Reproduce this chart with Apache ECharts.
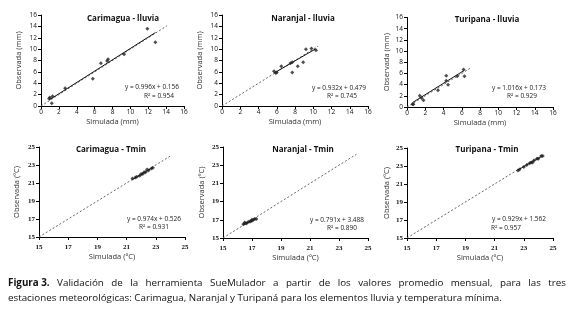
<!DOCTYPE html>
<html><head><meta charset="utf-8">
<script src="https://cdn.jsdelivr.net/npm/echarts@6/dist/echarts.min.js"></script>
<style>html,body{margin:0;padding:0;background:#fff}#c{width:574px;height:313px}</style>
</head><body><div id="c"></div>
<script>
// ---- data ----
const panelTitles = ['Carimagua - lluvia','Naranjal - lluvia','Turipana - lluvia','Carimagua - Tmin','Naranjal - Tmin','Turipana - Tmin'];
const carLluviaSim = [0.9, 1.0, 1.2, 1.3, 2.7, 5.8, 6.7, 7.4, 7.5, 9.3, 11.9, 12.8];
const carLluviaObs = [1.3, 1.5, 0.5, 1.7, 3.1, 4.8, 7.5, 7.9, 8.2, 9.1, 13.6, 11.2];
const narLluviaSim = [5.7, 5.9, 6.0, 6.5, 7.5, 7.7, 7.7, 8.3, 8.9, 9.2, 9.8, 10.3];
const narLluviaObs = [6.1, 5.8, 5.9, 7.0, 7.5, 7.7, 5.9, 7.0, 7.7, 10.0, 10.1, 9.8];
const turLluviaSim = [0.6, 0.7, 1.4, 1.6, 1.8, 3.4, 4.3, 4.3, 4.5, 5.5, 6.2, 6.3];
const turLluviaObs = [0.5, 0.5, 2.0, 1.6, 1.2, 3.0, 5.6, 4.7, 4.0, 5.5, 6.7, 5.5];
const carTminSim = [21.4, 21.6, 21.7, 21.9, 22.0, 22.1, 22.2, 22.3, 22.4, 22.5, 22.7, 22.8];
const carTminObs = [21.5, 21.6, 21.7, 21.8, 22.0, 22.0, 22.2, 22.2, 22.5, 22.4, 22.6, 22.7];
const narTminSim = [16.4, 16.5, 16.5, 16.6, 16.7, 16.8, 16.9, 17.0, 17.0, 17.1, 17.2, 17.3];
const narTminObs = [16.5, 16.6, 16.7, 16.6, 16.7, 16.8, 16.8, 16.9, 17.0, 17.0, 17.1, 17.1];
const turTminSim = [22.6, 22.7, 23.0, 23.2, 23.4, 23.5, 23.6, 23.7, 23.9, 24.0, 24.2, 24.3];
const turTminObs = [22.5, 22.6, 22.9, 23.1, 23.3, 23.4, 23.4, 23.6, 23.8, 23.8, 24.1, 24.1];
const slopes = [0.996, 0.932, 1.016, 0.974, 0.791, 0.929];
const intercepts = [0.156, 0.479, 0.173, 0.526, 3.488, 1.562];
const equations = ['y = 0.996x + 0.156','y = 0.932x + 0.479','y = 1.016x + 0.173','y = 0.974x + 0.526','y = 0.791x + 3.488','y = 0.929x + 1.562'];
const r2Values = ['0.954','0.745','0.929','0.931','0.890','0.957'];
const oneToOneEnd = [14.1, 10.5, 6.9, 24.1, 24.2, 24.3];
const lluviaTicks = [0, 2, 4, 6, 8, 10, 12, 14, 16];
const tminTicks = [15, 17, 19, 21, 23, 25];
const xNames = ['Simulada (mm)','Simulada (mm)','Simulada (mm)','Simulada (ºC)','Simulada (ºC)','Simulada (ºC)'];
const yNames = ['Observada (mm)','Observada (mm)','Observada (mm)','Observada (ºC)','Observada (ºC)','Observada (ºC)'];
const captionBold = 'Figura 3.';
const captionLine1 = 'Validación de la herramienta SueMulador a partir de los valores promedio mensual, para las tres';
const captionLine2 = 'estaciones meteorológicas: Carimagua, Naranjal y Turipaná para los elementos lluvia y temperatura mínima.';

const sims = [carLluviaSim, narLluviaSim, turLluviaSim, carTminSim, narTminSim, turTminSim];
const obss = [carLluviaObs, narLluviaObs, turLluviaObs, carTminObs, narTminObs, turTminObs];

// ---- layout ----
const grids = [
  {left:41, top:15, width:143, height:91},
  {left:222, top:15, width:146, height:91},
  {left:407, top:17.5, width:146, height:89.5},
  {left:39, top:147, width:146, height:90},
  {left:223, top:147, width:145, height:91},
  {left:407, top:148, width:146, height:90}
];
const yNameGap = [18, 18, 16, 18, 17, 16];
const titlePos = [[118,15],[298,15],[482,16],[106,146],[298,146],[482,146]];
const eqPos = [[152,88,'center'],[339,89,'center'],[519,89,'center'],[154,220,'center'],[337,221,'center'],[519,220,'center']];
const r2Pos = [[159,97,'center'],[342,97,'center'],[522,97,'center'],[154,228,'center'],[342,229,'center'],[491,229,'left']];

const FONT = 'Open Sans';
const xAxes = [], yAxes = [], series = [], titles = [], graphics = [];
for (let i = 0; i < 6; i++) {
  const isT = i >= 3;
  const ticks = isT ? tminTicks : lluviaTicks;
  const mn = ticks[0], mx = ticks[ticks.length-1], iv = ticks[1]-ticks[0];
  const labelStyle = {fontSize: isT ? 7 : 6.5, color:'#111', fontFamily: isT ? 'Liberation Serif' : FONT, fontWeight: isT ? 'bold' : 'normal'};
  xAxes.push({type:'value', gridIndex:i, min:mn, max:mx, interval:iv,
    axisLine:{show:true, lineStyle:{color:'#000', width:1}},
    axisTick:{show:true, length:3, inside:false, lineStyle:{color:'#000'}},
    axisLabel:Object.assign({margin: isT ? 7 : 3}, labelStyle),
    splitLine:{show:false},
    name:xNames[i], nameLocation:'middle', nameGap: isT ? 16 : 12,
    nameTextStyle:{fontSize:7.5, color:'#333', fontFamily:FONT}
  });
  yAxes.push({type:'value', gridIndex:i, min:mn, max:mx, interval:iv,
    axisLine:{show:true, lineStyle:{color:'#000', width:1}},
    axisTick:{show:true, length:3, lineStyle:{color:'#000'}},
    axisLabel:Object.assign({margin:4}, labelStyle),
    splitLine:{show:false},
    name:yNames[i], nameLocation:'middle', nameGap:yNameGap[i],
    nameTextStyle:{fontSize:7.5, color:'#333', fontFamily:FONT}
  });
  const sim = sims[i], obs = obss[i];
  const pts = sim.map((v,k)=>[v, obs[k]]);
  const x0 = Math.min(...sim), x1 = Math.max(...sim);
  series.push({type:'line', xAxisIndex:i, yAxisIndex:i, data:[[mn,mn],[oneToOneEnd[i],oneToOneEnd[i]]],
    symbol:'none', silent:true, lineStyle:{color:'#666', width:1, type:[2,2]}, z:1});
  series.push({type:'line', xAxisIndex:i, yAxisIndex:i,
    data:[[x0, slopes[i]*x0+intercepts[i]],[x1, slopes[i]*x1+intercepts[i]]],
    symbol:'none', silent:true, lineStyle:{color:'#111', width:1}, z:2});
  series.push({type:'scatter', xAxisIndex:i, yAxisIndex:i, data:pts, symbol:'diamond', symbolSize:4,
    itemStyle:{color:'#222'}, z:3});
  titles.push({text:panelTitles[i], left:titlePos[i][0], top:titlePos[i][1]-5, textAlign:'center',
    textStyle:{fontSize:8, fontWeight:'bold', color:'#111', fontFamily:FONT}});
  graphics.push({type:'text', x:eqPos[i][0], y:eqPos[i][1]-4, style:{text:equations[i], fontSize:6.5, fill:'#222', fontFamily:FONT, textAlign:eqPos[i][2]}});
  graphics.push({type:'text', x:r2Pos[i][0], y:r2Pos[i][1]-4, style:{text:'R² = '+r2Values[i], fontSize:6.5, fill:'#222', fontFamily:FONT, textAlign:r2Pos[i][2]}});
}

// ---- caption (line 1 justified) ----
const CAP_FS = 9.8, CAP_L = 8, CAP_R = 566;
const mctx = document.createElement('canvas').getContext('2d');
function tw(t, bold) { mctx.font = (bold ? 'bold ' : '') + CAP_FS + 'px "' + FONT + '"'; return mctx.measureText(t).width; }
const words1 = [{t:captionBold, b:true}].concat(captionLine1.split(' ').map(t=>({t, b:false})));
const totalW = words1.reduce((s,w)=>s+tw(w.t,w.b),0);
const gap = (CAP_R - CAP_L - totalW) / (words1.length - 1);
let cx = CAP_L;
words1.forEach(w => {
  graphics.push({type:'text', x:cx, y:283, style:{text:w.t, fontSize:CAP_FS, fontWeight:w.b?'bold':'normal', fill:'#111', fontFamily:FONT, textVerticalAlign:'middle', textAlign:'left'}});
  cx += tw(w.t,w.b) + gap;
});
graphics.push({type:'text', x:CAP_L, y:298, style:{text:captionLine2, fontSize:CAP_FS, fill:'#111', fontFamily:FONT, textVerticalAlign:'middle', textAlign:'left'}});

const chart = echarts.init(document.getElementById('c'), null, {renderer:'canvas'});
chart.setOption({
  animation:false,
  backgroundColor:'#fff',
  title:titles,
  grid:grids,
  xAxis:xAxes,
  yAxis:yAxes,
  series:series,
  graphic:graphics
});
</script></body></html>
